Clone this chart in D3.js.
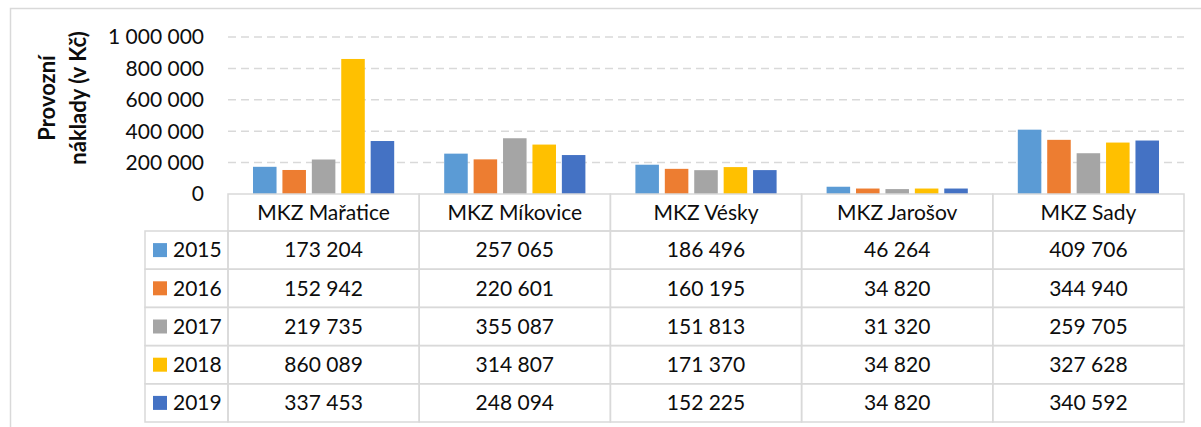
<!DOCTYPE html>
<html>

<head>
    <meta charset="utf-8">
    <title>Provozní náklady MKZ</title>
    <script src="https://cdnjs.cloudflare.com/ajax/libs/d3/7.8.5/d3.min.js"></script>
    <style>
        body {
            margin: 0;
            background: #fff;
        }

        text {
            font-family: Lato, "Open Sans", sans-serif;
            fill: #0d0d0d;
        }

        .grid line {
            stroke: #d9d9d9;
            stroke-width: 1.5;
            stroke-dasharray: 8, 5;
        }

        .cell {
            fill: none;
            stroke: #d9d9d9;
            stroke-width: 1.5;
        }
    </style>
</head>

<body>
    <div id="chart"></div>
    <script>
        // Data
        const categories = ["MKZ Mařatice", "MKZ Míkovice", "MKZ Vésky", "MKZ Jarošov", "MKZ Sady"];
        const years = ["2015", "2016", "2017", "2018", "2019"];
        const values2015 = [173204, 257065, 186496, 46264, 409706];
        const values2016 = [152942, 220601, 160195, 34820, 344940];
        const values2017 = [219735, 355087, 151813, 31320, 259705];
        const values2018 = [860089, 314807, 171370, 34820, 327628];
        const values2019 = [337453, 248094, 152225, 34820, 340592];
        const yTicks = [0, 200000, 400000, 600000, 800000, 1000000];
        const colors = ["#5b9bd5", "#ed7d31", "#a5a5a5", "#ffc000", "#4472c4"];

        const series = years.map((y, i) => ({
            year: y,
            color: colors[i],
            values: [values2015, values2016, values2017, values2018, values2019][i]
        }));

        const width = 1201, height = 427;
        const fs = "21px";
        const svg = d3.select("#chart")
            .append("svg")
            .attr("width", width)
            .attr("height", height);

        // outer chart border (runs off the right and bottom edge)
        svg.append("rect")
            .attr("x", 10.5).attr("y", 8.5)
            .attr("width", 1300).attr("height", 500)
            .attr("fill", "none")
            .attr("stroke", "#d9d9d9")
            .attr("stroke-width", 1.5);

        const plotLeft = 228, plotRight = 1184;
        const y = d3.scaleLinear().domain([0, 1000000]).range([194, 37]);
        const x0 = d3.scaleBand().domain(categories).range([plotLeft, plotRight]);
        const x1 = d3.scaleBand().domain(years)
            .range([25, x0.bandwidth() - 25])
            .paddingInner(0.2);

        const fmt = d3.formatLocale({ decimal: ",", thousands: " ", grouping: [3], currency: ["", ""] }).format(",d");

        // gridlines
        svg.append("g").attr("class", "grid")
            .selectAll("line")
            .data(yTicks.filter(d => d > 0))
            .join("line")
            .attr("x1", plotLeft).attr("x2", plotRight)
            .attr("y1", d => y(d)).attr("y2", d => y(d));

        // y tick labels
        svg.append("g")
            .selectAll("text")
            .data(yTicks)
            .join("text")
            .attr("x", 204)
            .attr("y", d => y(d))
            .attr("dy", "0.35em")
            .attr("text-anchor", "end")
            .style("font-size", fs)
            .text(d => fmt(d));

        // y title, two lines
        const title = svg.append("text")
            .attr("transform", "translate(55,98) rotate(-90)")
            .attr("text-anchor", "middle")
            .style("font-size", "22px")
            .style("font-weight", "bold");
        title.append("tspan").attr("x", 0).attr("dy", 0).text("Provozní");
        title.append("tspan").attr("x", 0).attr("dy", 31).text("náklady (v Kč)");

        // bars
        svg.append("g")
            .selectAll("g")
            .data(series)
            .join("g")
            .attr("fill", d => d.color)
            .selectAll("rect")
            .data(d => d.values.map((v, i) => ({ cat: categories[i], year: d.year, v })))
            .join("rect")
            .attr("x", d => x0(d.cat) + x1(d.year))
            .attr("width", x1.bandwidth())
            .attr("y", d => y(d.v))
            .attr("height", d => y(0) - y(d.v));

        // data table
        const headerTop = 194, headerH = 37, rowH = 38.2;
        const legendLeft = 145;
        const table = svg.append("g");

        table.selectAll(".hdr")
            .data(categories)
            .join("rect")
            .attr("class", "cell")
            .attr("x", d => x0(d)).attr("y", headerTop)
            .attr("width", x0.bandwidth()).attr("height", headerH);
        table.selectAll(".hdrText")
            .data(categories)
            .join("text")
            .attr("x", d => x0(d) + x0.bandwidth() / 2)
            .attr("y", headerTop + headerH / 2)
            .attr("dy", "0.35em")
            .attr("text-anchor", "middle")
            .style("font-size", fs)
            .text(d => d);

        series.forEach((s, r) => {
            const top = headerTop + headerH + r * rowH;
            const row = table.append("g");
            row.append("rect").attr("class", "cell")
                .attr("x", legendLeft).attr("y", top)
                .attr("width", plotLeft - legendLeft).attr("height", rowH);
            row.append("rect")
                .attr("x", 153).attr("y", top + rowH / 2 - 7)
                .attr("width", 14).attr("height", 14)
                .attr("fill", s.color);
            row.append("text")
                .attr("x", 173).attr("y", top + rowH / 2)
                .attr("dy", "0.35em")
                .style("font-size", fs)
                .text(s.year);
            row.selectAll("rect.v")
                .data(categories)
                .join("rect")
                .attr("class", "cell v")
                .attr("x", d => x0(d)).attr("y", top)
                .attr("width", x0.bandwidth()).attr("height", rowH);
            row.selectAll("text.v")
                .data(s.values)
                .join("text")
                .attr("class", "v")
                .attr("x", (d, i) => x0(categories[i]) + x0.bandwidth() / 2)
                .attr("y", top + rowH / 2)
                .attr("dy", "0.35em")
                .attr("text-anchor", "middle")
                .style("font-size", fs)
                .text(d => fmt(d));
        });
    </script>
</body>

</html>
